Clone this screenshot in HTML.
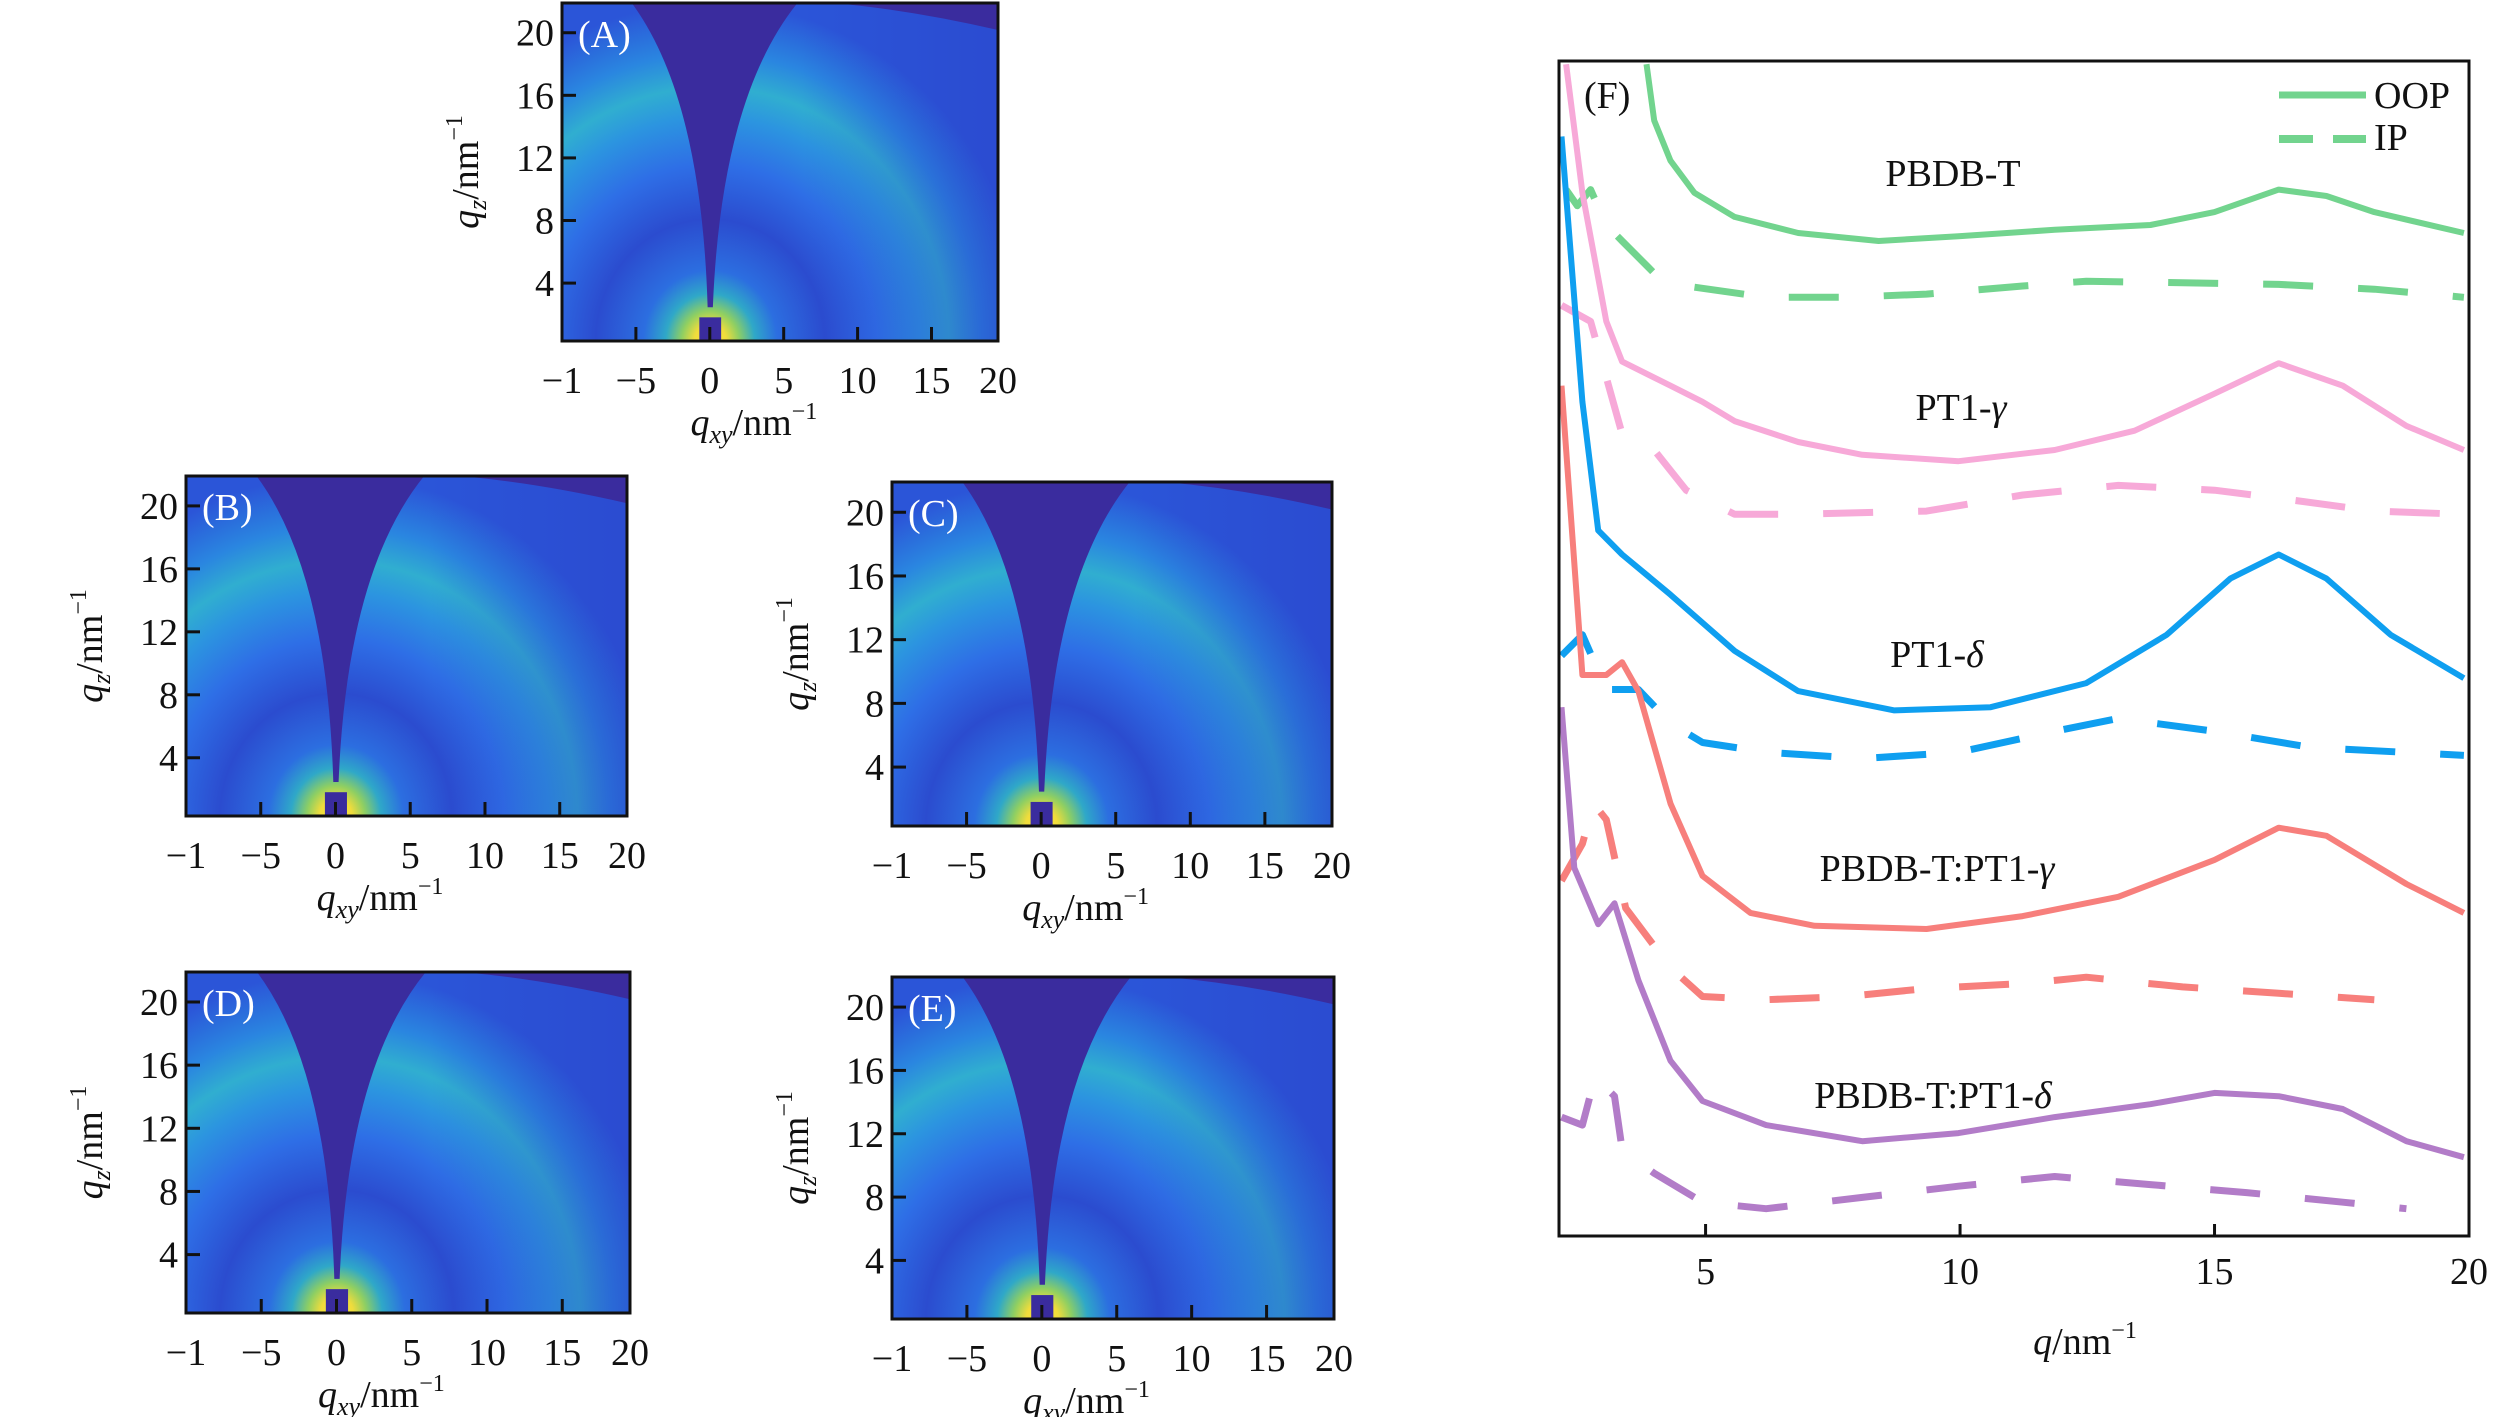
<!DOCTYPE html>
<html><head><meta charset="utf-8">
<style>
html,body{margin:0;padding:0;background:#fff;}
svg, svg text, svg tspan{font-family:"Liberation Serif","Times New Roman",serif !important;}
</style></head>
<body>
<svg id="root" width="2520" height="1417" viewBox="0 0 2520 1417" xmlns="http://www.w3.org/2000/svg" font-family="Liberation Serif, serif">
<defs>
  <radialGradient id="scat" gradientUnits="userSpaceOnUse" cx="34" cy="100" r="100" gradientTransform="translate(34,100) scale(0.73,1) translate(-34,-100)">
    <stop offset="0" stop-color="#f8e83a"/>
    <stop offset="0.05" stop-color="#f0dc3c"/>
    <stop offset="0.09" stop-color="#8fcf62"/>
    <stop offset="0.14" stop-color="#2fa8c8"/>
    <stop offset="0.21" stop-color="#2c6ee0"/>
    <stop offset="0.36" stop-color="#2b4ccf"/>
    <stop offset="0.52" stop-color="#2e6ee6"/>
    <stop offset="0.66" stop-color="#2c94e0"/>
    <stop offset="0.75" stop-color="#30aed0"/>
    <stop offset="0.85" stop-color="#2a86e0"/>
    <stop offset="1" stop-color="#2b55d8"/>
  </radialGradient>
  <linearGradient id="fade" x1="0" y1="0" x2="1" y2="0">
    <stop offset="0" stop-color="#2b40c8" stop-opacity="0"/>
    <stop offset="0.55" stop-color="#2b40c8" stop-opacity="0"/>
    <stop offset="1" stop-color="#2b40c8" stop-opacity="0.45"/>
  </linearGradient>
</defs>
<g id="heatmaps"></g>
<g id="panelF"></g>
</svg>
<script>
// ---------- Panel F data ----------
const qOOP_PBDBT = [3.84,3.99,4.31,4.78,5.57,6.82,8.40,9.97,11.86,13.74,15.0,16.26,17.20,18.14,19.9];
const iOOP_PBDBT = [729,694,669,649,634,624,619,622,626,629,637,651,647,637,624];
const qIP_PBDBT = [2.26,2.48,2.74,3.05,3.36,3.99,4.62,6.19,7.77,9.34,11.23,12.48,14.37,16.26,18.14,19.9];
const iIP_PBDBT = [651,641,651,629,619,599,591,584,584,586,591,594,593,592,589,584];

const qOOP_G = [2.26,2.58,3.05,3.36,4.31,4.94,5.57,6.82,8.08,9.97,11.86,13.43,15.0,16.26,17.52,18.77,19.9];
const iOOP_G = [729,649,569,544,529,519,507,494,486,482,489,501,524,543,529,504,489];
const qIP_G = [2.17,2.74,3.36,3.99,4.62,5.57,6.82,9.34,11.23,13.11,15.0,16.26,18.14,19.9];
const iIP_G = [579,569,499,489,464,449,449,451,461,467,464,459,451,449];

const qOOP_D = [2.17,2.58,2.89,3.36,4.31,5.57,6.82,8.71,10.60,12.48,14.06,15.31,16.26,17.20,18.46,19.9];
const iOOP_D = [684,519,439,424,399,364,339,327,329,344,374,409,424,409,374,347];
const qIP_D = [2.17,2.58,3.05,3.68,4.31,4.94,6.19,8.08,9.97,11.86,13.11,15.0,16.89,19.9];
const iIP_D = [361,374,340,340,319,307,301,297,301,314,322,314,304,299];

const qOOP_BG = [2.17,2.58,3.05,3.36,3.68,4.31,4.94,5.88,7.14,9.34,11.23,13.11,15.0,16.26,17.20,18.77,19.9];
const iOOP_BG = [529,349,349,357,339,269,224,201,193,191,199,211,234,254,249,219,201];
const qIP_BG = [2.17,2.58,2.80,3.05,3.43,4.31,4.94,6.19,7.77,9.34,11.23,12.48,14.37,16.26,18.14];
const iIP_BG = [221,244,269,259,204,167,149,147,149,154,157,161,155,151,147];

const qOOP_BD = [2.17,2.42,2.89,3.21,3.68,4.31,4.94,6.19,8.08,9.97,11.86,13.74,15.0,16.26,17.52,18.77,19.9];
const iOOP_BD = [329,229,194,207,159,109,84,69,59,64,74,82,89,87,79,59,49];
const qIP_BD = [2.17,2.58,2.83,3.21,3.36,3.99,4.94,6.19,8.08,9.97,11.86,13.74,15.63,17.52,18.77];
const iIP_BD = [74,69,99,87,54,39,21,17,24,31,37,32,27,21,17];

const xTicksF = [5,10,15,20];
const seriesNames = ["PBDB-T","PT1-γ","PT1-δ","PBDB-T:PT1-γ","PBDB-T:PT1-δ"];

// ---------- Heatmap axis ticks ----------
const qxyTicks = [-10,-5,0,5,10,15,20];
const qxyTickLabels = ["−1","−5","0","5","10","15","20"];
const qzTicks = [4,8,12,16,20];
const panelLetters = ["(A)","(B)","(C)","(D)","(E)"];

const NS = "http://www.w3.org/2000/svg";
const FONT = "Liberation Serif, Times New Roman, serif";
function mk(tag, attrs, parent){
  const e = document.createElementNS(NS, tag);
  for (const k in attrs) e.setAttribute(k, attrs[k]);
  if (tag === 'text') e.setAttribute('font-family', FONT);
  if (parent) parent.appendChild(e);
  return e;
}

// ---------- Heatmaps ----------
const panels = [
  {x:562,y:3,w:436,h:338},
  {x:186,y:476,w:441,h:340},
  {x:892,y:482,w:440,h:344},
  {x:186,y:972,w:444,h:341},
  {x:892,y:977,w:442,h:342}
];
const hm = document.getElementById('heatmaps');
panels.forEach((p, idx) => {
  const g = mk('g', {}, hm);
  
  
  const s = mk('svg', {x:p.x, y:p.y, width:p.w, height:p.h, viewBox:"0 0 100 100", preserveAspectRatio:"none"}, g);
  
  
  mk('rect', {x:0,y:0,width:100,height:100,fill:"url(#scat)"}, s);
  mk('rect', {x:0,y:0,width:100,height:100,fill:"url(#fade)"}, s);
  mk('path', {d:"M33.4,90 Q32,28 16,0 L54,0 Q36.5,28 34.6,90 Z", fill:"#3a2c9e"}, s);
  mk('path', {d:"M54,0 L100,0 L100,8 Q80,2 62,0 Z", fill:"#3a2c9e"}, s);
  mk('rect', {x:31.5,y:93,width:5,height:7,fill:"#3a2c9e"}, s);
  const fr = mk('rect', {x:p.x, y:p.y, width:p.w, height:p.h, fill:"none", stroke:"#111", "stroke-width":3}, g);
  
  
  const xs = q => p.x + (q + 10) / 29.5 * p.w;
  const ys = q => p.y + (21.9 - q) / 21.6 * p.h;
  qxyTicks.forEach((t, i) => {
    if (i > 0 && xs(t) < p.x + p.w - 4) mk('line', {x1:xs(t), x2:xs(t), y1:p.y+p.h, y2:p.y+p.h-14, stroke:"#111","stroke-width":3}, g);
    const tx = mk('text', {x: i === 0 ? p.x : Math.min(xs(t), p.x + p.w), y:p.y+p.h+52, "text-anchor":"middle", "font-size":38, fill:"#111"}, g);
    tx.textContent = qxyTickLabels[i];
    
    
  });
  qzTicks.forEach(t => {
    mk('line', {x1:p.x, x2:p.x+14, y1:ys(t), y2:ys(t), stroke:"#111","stroke-width":3}, g);
    const ty = mk('text', {x:p.x-8, y:ys(t)+13, "text-anchor":"end", "font-size":38, fill:"#111"}, g);
    ty.textContent = t;
    
    
  });
  const xt = mk('text', {x:p.x+p.w*0.44, y:p.y+p.h+94, "text-anchor":"middle", "font-size":38, fill:"#111"}, g);
  xt.innerHTML = '<tspan font-style="italic">q</tspan><tspan font-style="italic" font-size="26" dy="8">xy</tspan><tspan dy="-8">/nm</tspan><tspan font-size="24" dy="-16">−1</tspan>';
  
  
  const yt = mk('text', {x:0, y:0, "text-anchor":"middle", "font-size":38, fill:"#111", transform:`translate(${p.x-84},${p.y+p.h*0.5}) rotate(-90)`}, g);
  yt.innerHTML = '<tspan font-style="italic">q</tspan><tspan font-style="italic" font-size="26" dy="8">z</tspan><tspan dy="-8">/nm</tspan><tspan font-size="24" dy="-16">−1</tspan>';
  
  
  const lb = mk('text', {x:p.x+16, y:p.y+44, "font-size":38, fill:"#fff"}, g);
  lb.textContent = panelLetters[idx];
  
  
});

// ---------- Panel F ----------
const F = document.getElementById('panelF');
const L = 1559, R = 2469, T = 61, B = 1236;
const xF = q => L + (q - 2.12) / (20 - 2.12) * (R - L);
const yF = v => B - v / 731 * (B - T);
const clip = mk('clipPath', {id:"fclip"}, F);
mk('rect', {x:L, y:T, width:R-L, height:B-T}, clip);
const plot = mk('g', {"clip-path":"url(#fclip)"}, F);
const series = [
  ["pbdbt", qOOP_PBDBT, iOOP_PBDBT, qIP_PBDBT, iIP_PBDBT, "#72d48e"],
  ["pt1-gamma", qOOP_G, iOOP_G, qIP_G, iIP_G, "#f7a9d8"],
  ["pt1-delta", qOOP_D, iOOP_D, qIP_D, iIP_D, "#0f9ff0"],
  ["blend-gamma", qOOP_BG, iOOP_BG, qIP_BG, iIP_BG, "#f77f7c"],
  ["blend-delta", qOOP_BD, iOOP_BD, qIP_BD, iIP_BD, "#b27cc8"]
];
series.forEach(s => {
  const d1 = s[1].map((q,i) => (i?'L':'M') + xF(q).toFixed(1) + ',' + yF(s[2][i]).toFixed(1)).join(' ');
  const p1 = mk('path', {d:d1, fill:"none", stroke:s[5], "stroke-width":6, "stroke-linejoin":"round"}, plot);
  
  
  const d2 = s[3].map((q,i) => (i?'L':'M') + xF(q).toFixed(1) + ',' + yF(s[4][i]).toFixed(1)).join(' ');
  const p2 = mk('path', {d:d2, fill:"none", stroke:s[5], "stroke-width":7, "stroke-dasharray":"50 45", "stroke-linejoin":"round"}, plot);
  
  
});
const frame = mk('rect', {x:L, y:T, width:R-L, height:B-T, fill:"none", stroke:"#111", "stroke-width":3}, F);


xTicksF.forEach(t => {
  mk('line', {x1:xF(t), x2:xF(t), y1:B, y2:B-12, stroke:"#111","stroke-width":3}, F);
  const tx = mk('text', {x:xF(t), y:B+48, "text-anchor":"middle", "font-size":38, fill:"#111"}, F);
  tx.textContent = t;
  
  
});
const xtF = mk('text', {x:2085, y:1354, "text-anchor":"middle", "font-size":38, fill:"#111"}, F);
xtF.innerHTML = '<tspan font-style="italic">q</tspan>/nm<tspan font-size="24" dy="-16">−1</tspan>';


const fl = mk('text', {x:1584, y:108, "font-size":38, fill:"#111"}, F);
fl.textContent = "(F)";


const labelPos = [[1953,186],[1961,420],[1937,667],[1937,881],[1933,1108]];
seriesNames.forEach((n,i) => {
  const t = mk('text', {x:labelPos[i][0], y:labelPos[i][1], "text-anchor":"middle", "font-size":38, fill:"#111"}, F);
  t.innerHTML = n.replace(/([γδ])/, '<tspan font-style="italic">$1</tspan>');
  
  
});
const lg = mk('g', {}, F);


mk('line', {x1:2279, x2:2366, y1:95, y2:95, stroke:"#72d48e", "stroke-width":7}, lg);
mk('line', {x1:2279, x2:2366, y1:139, y2:139, stroke:"#72d48e", "stroke-width":8, "stroke-dasharray":"34 20"}, lg);
const lt1 = mk('text', {x:2374, y:108, "font-size":38, fill:"#111"}, lg);
lt1.textContent = "OOP";


const lt2 = mk('text', {x:2374, y:150, "font-size":38, fill:"#111"}, lg);
lt2.textContent = "IP";


</script>
</body></html>
